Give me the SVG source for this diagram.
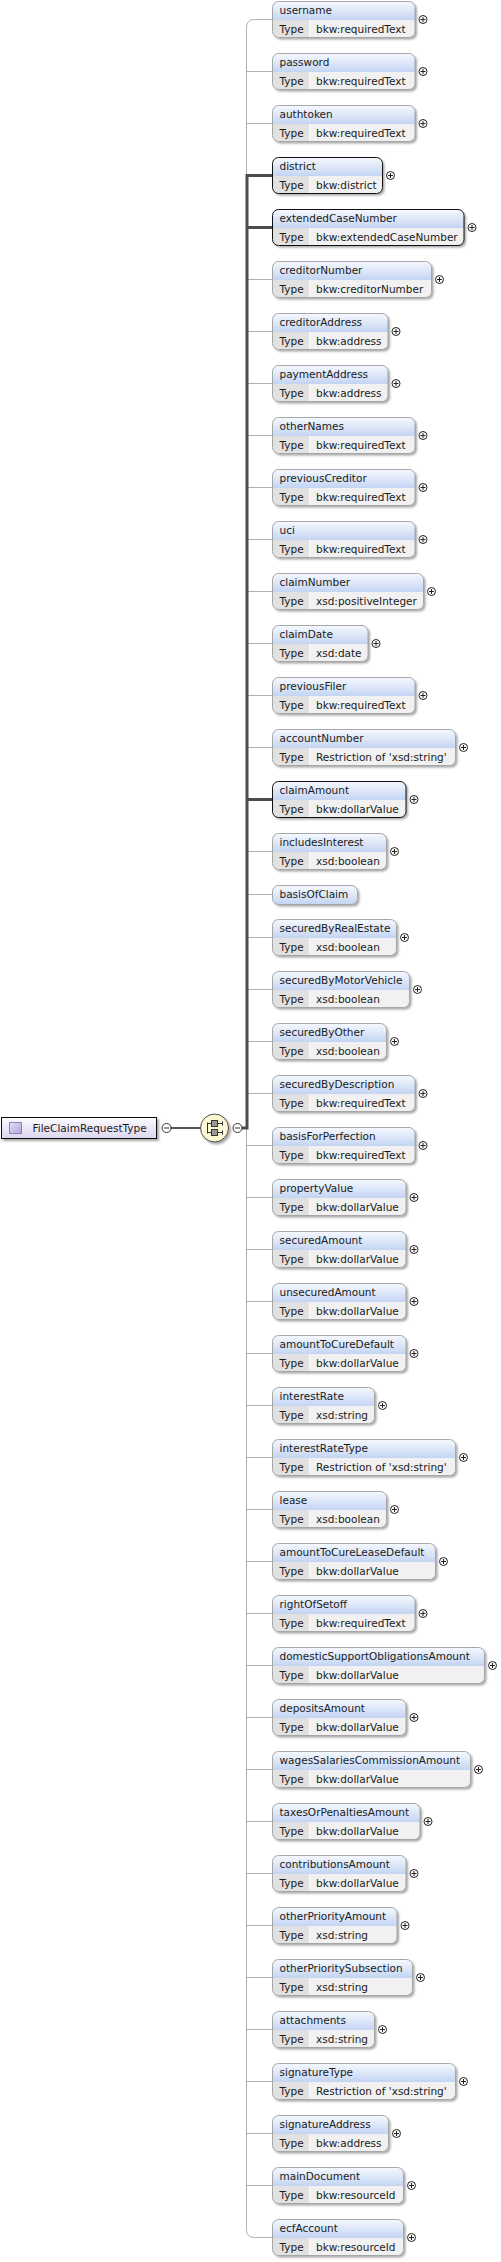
<svg xmlns="http://www.w3.org/2000/svg" xmlns:xlink="http://www.w3.org/1999/xlink" width="501" height="2262" viewBox="0 0 501 2262">
<style>
text{font-family:"DejaVu Sans","Liberation Sans",sans-serif;font-size:10.5px;fill:#1a1a1a}
.bx{fill:#f1f1f1;filter:url(#sh)}
.hd{fill:url(#hg)}
.tc{fill:#e1e1e1}
.dv{stroke:#fafafa;stroke-width:1}
.ol{fill:none;stroke:#a6a6a6;stroke-width:1}
.req .ol{stroke:#111}
.thin{fill:none;stroke:#b0b0b0;stroke-width:1}
.thick{fill:none;stroke:#4d4d4d;stroke-width:3}
</style>
<defs>
<linearGradient id="hg" x1="0" y1="0" x2="0" y2="1">
<stop offset="0" stop-color="#f6f9fe"/>
<stop offset="1" stop-color="#c3d5f3"/>
</linearGradient>
<linearGradient id="rg" x1="0" y1="0" x2="0" y2="1">
<stop offset="0" stop-color="#fcfbff"/>
<stop offset="1" stop-color="#dcd6ef"/>
</linearGradient>
<linearGradient id="ig" x1="0" y1="0" x2="1" y2="1">
<stop offset="0" stop-color="#e6e0f7"/>
<stop offset="1" stop-color="#b1a4dc"/>
</linearGradient>
<filter id="sh" x="-10%" y="-20%" width="130%" height="160%">
<feDropShadow dx="2" dy="2" stdDeviation="1" flood-color="#000" flood-opacity="0.35"/>
</filter>
<g id="plus">
<circle r="4" fill="#fff" stroke="#222" stroke-width="1"/>
<path d="M-2.5,0H2.5M0,-2.5V2.5" stroke="#222" stroke-width="1"/>
</g>
<g id="minus">
<circle r="4.5" fill="#fff" stroke="#333" stroke-width="1"/>
<path d="M-2.5,0H2.5" stroke="#333" stroke-width="1"/>
</g>
<path id="tcell" class="tc" d="M.5,19H37V36.5H6.5A6,6 0 0 1 .5,30.5Z"/>
</defs>

<g id="connectors">
<path class="thin" d="M272,19.5H254.5Q246.5,19.5 246.5,27.5V2229.5Q246.5,2237.5 254.5,2237.5H272"/>
<path class="thin" d="M246.5,71.5H272M246.5,123.5H272M246.5,279.5H272M246.5,331.5H272M246.5,383.5H272M246.5,435.5H272M246.5,487.5H272M246.5,539.5H272M246.5,591.5H272M246.5,643.5H272M246.5,695.5H272M246.5,747.5H272M246.5,851.5H272M246.5,894.5H272M246.5,937.5H272M246.5,989.5H272M246.5,1041.5H272M246.5,1093.5H272M246.5,1145.5H272M246.5,1197.5H272M246.5,1249.5H272M246.5,1301.5H272M246.5,1353.5H272M246.5,1405.5H272M246.5,1457.5H272M246.5,1509.5H272M246.5,1561.5H272M246.5,1613.5H272M246.5,1665.5H272M246.5,1717.5H272M246.5,1769.5H272M246.5,1821.5H272M246.5,1873.5H272M246.5,1925.5H272M246.5,1977.5H272M246.5,2029.5H272M246.5,2081.5H272M246.5,2133.5H272M246.5,2185.5H272"/>
<path class="thick" d="M242,1128H247V175.5H272M247,227.5H272M247,799.5H272"/>
<path d="M171,1128H201" stroke="#555" stroke-width="2" fill="none"/>
</g>

<g id="FileClaimRequestType">
<rect x="1.5" y="1117.5" width="155" height="21" fill="url(#rg)" stroke="#111" filter="url(#sh)"/>
<rect x="9.5" y="1122.5" width="12" height="11" fill="url(#ig)" stroke="#8b7fc0"/>
<text x="32.5" y="1132">FileClaimRequestType</text>
<use href="#minus" x="166.5" y="1128"/>
</g>

<g id="sequence">
<circle cx="214.5" cy="1128" r="14" fill="#fbf7d2" stroke="#4d4d4d" filter="url(#sh)"/>
<path d="M207.5,1122.5V1133.5M207.5,1123.5H222.5M207.5,1132.5H222.5M222.5,1121.5V1125.5M222.5,1130.5V1134.5" stroke="#333" fill="none"/>
<rect x="211.5" y="1120.5" width="6" height="6" fill="#999" stroke="#333"/>
<rect x="211.5" y="1129.5" width="6" height="6" fill="#999" stroke="#333"/>
<use href="#minus" x="237.5" y="1128"/>
</g>

<g id="username" transform="translate(272,1)">
<rect class="bx" x=".5" y=".5" width="142.5" height="36" rx="6"/>
<path class="hd" d="M.5,19V6.5A6,6 0 0 1 6.5,.5H137A6,6 0 0 1 143,6.5V19Z"/>
<use href="#tcell"/><line class="dv" x1="37.5" y1="19" x2="37.5" y2="36"/>
<rect class="ol" x=".5" y=".5" width="142.5" height="36" rx="6"/>
<text x="7.5" y="13">username</text><text x="7.5" y="32">Type</text><text x="44" y="32">bkw:requiredText</text>
<use href="#plus" x="151" y="18.5"/>
</g>
<g id="password" transform="translate(272,53)">
<rect class="bx" x=".5" y=".5" width="142.5" height="36" rx="6"/>
<path class="hd" d="M.5,19V6.5A6,6 0 0 1 6.5,.5H137A6,6 0 0 1 143,6.5V19Z"/>
<use href="#tcell"/><line class="dv" x1="37.5" y1="19" x2="37.5" y2="36"/>
<rect class="ol" x=".5" y=".5" width="142.5" height="36" rx="6"/>
<text x="7.5" y="13">password</text><text x="7.5" y="32">Type</text><text x="44" y="32">bkw:requiredText</text>
<use href="#plus" x="151" y="18.5"/>
</g>
<g id="authtoken" transform="translate(272,105)">
<rect class="bx" x=".5" y=".5" width="142.5" height="36" rx="6"/>
<path class="hd" d="M.5,19V6.5A6,6 0 0 1 6.5,.5H137A6,6 0 0 1 143,6.5V19Z"/>
<use href="#tcell"/><line class="dv" x1="37.5" y1="19" x2="37.5" y2="36"/>
<rect class="ol" x=".5" y=".5" width="142.5" height="36" rx="6"/>
<text x="7.5" y="13">authtoken</text><text x="7.5" y="32">Type</text><text x="44" y="32">bkw:requiredText</text>
<use href="#plus" x="151" y="18.5"/>
</g>
<g id="district" class="req" transform="translate(272,157)">
<rect class="bx" x=".5" y=".5" width="110" height="36" rx="6"/>
<path class="hd" d="M.5,19V6.5A6,6 0 0 1 6.5,.5H104.5A6,6 0 0 1 110.5,6.5V19Z"/>
<use href="#tcell"/><line class="dv" x1="37.5" y1="19" x2="37.5" y2="36"/>
<rect class="ol" x=".5" y=".5" width="110" height="36" rx="6"/>
<text x="7.5" y="13">district</text><text x="7.5" y="32">Type</text><text x="44" y="32">bkw:district</text>
<use href="#plus" x="118.5" y="18.5"/>
</g>
<g id="extendedCaseNumber" class="req" transform="translate(272,209)">
<rect class="bx" x=".5" y=".5" width="191.5" height="36" rx="6"/>
<path class="hd" d="M.5,19V6.5A6,6 0 0 1 6.5,.5H186A6,6 0 0 1 192,6.5V19Z"/>
<use href="#tcell"/><line class="dv" x1="37.5" y1="19" x2="37.5" y2="36"/>
<rect class="ol" x=".5" y=".5" width="191.5" height="36" rx="6"/>
<text x="7.5" y="13">extendedCaseNumber</text><text x="7.5" y="32">Type</text><text x="44" y="32">bkw:extendedCaseNumber</text>
<use href="#plus" x="200" y="18.5"/>
</g>
<g id="creditorNumber" transform="translate(272,261)">
<rect class="bx" x=".5" y=".5" width="159" height="36" rx="6"/>
<path class="hd" d="M.5,19V6.5A6,6 0 0 1 6.5,.5H153.5A6,6 0 0 1 159.5,6.5V19Z"/>
<use href="#tcell"/><line class="dv" x1="37.5" y1="19" x2="37.5" y2="36"/>
<rect class="ol" x=".5" y=".5" width="159" height="36" rx="6"/>
<text x="7.5" y="13">creditorNumber</text><text x="7.5" y="32">Type</text><text x="44" y="32">bkw:creditorNumber</text>
<use href="#plus" x="167.5" y="18.5"/>
</g>
<g id="creditorAddress" transform="translate(272,313)">
<rect class="bx" x=".5" y=".5" width="115.5" height="36" rx="6"/>
<path class="hd" d="M.5,19V6.5A6,6 0 0 1 6.5,.5H110A6,6 0 0 1 116,6.5V19Z"/>
<use href="#tcell"/><line class="dv" x1="37.5" y1="19" x2="37.5" y2="36"/>
<rect class="ol" x=".5" y=".5" width="115.5" height="36" rx="6"/>
<text x="7.5" y="13">creditorAddress</text><text x="7.5" y="32">Type</text><text x="44" y="32">bkw:address</text>
<use href="#plus" x="124" y="18.5"/>
</g>
<g id="paymentAddress" transform="translate(272,365)">
<rect class="bx" x=".5" y=".5" width="115.5" height="36" rx="6"/>
<path class="hd" d="M.5,19V6.5A6,6 0 0 1 6.5,.5H110A6,6 0 0 1 116,6.5V19Z"/>
<use href="#tcell"/><line class="dv" x1="37.5" y1="19" x2="37.5" y2="36"/>
<rect class="ol" x=".5" y=".5" width="115.5" height="36" rx="6"/>
<text x="7.5" y="13">paymentAddress</text><text x="7.5" y="32">Type</text><text x="44" y="32">bkw:address</text>
<use href="#plus" x="124" y="18.5"/>
</g>
<g id="otherNames" transform="translate(272,417)">
<rect class="bx" x=".5" y=".5" width="142.5" height="36" rx="6"/>
<path class="hd" d="M.5,19V6.5A6,6 0 0 1 6.5,.5H137A6,6 0 0 1 143,6.5V19Z"/>
<use href="#tcell"/><line class="dv" x1="37.5" y1="19" x2="37.5" y2="36"/>
<rect class="ol" x=".5" y=".5" width="142.5" height="36" rx="6"/>
<text x="7.5" y="13">otherNames</text><text x="7.5" y="32">Type</text><text x="44" y="32">bkw:requiredText</text>
<use href="#plus" x="151" y="18.5"/>
</g>
<g id="previousCreditor" transform="translate(272,469)">
<rect class="bx" x=".5" y=".5" width="142.5" height="36" rx="6"/>
<path class="hd" d="M.5,19V6.5A6,6 0 0 1 6.5,.5H137A6,6 0 0 1 143,6.5V19Z"/>
<use href="#tcell"/><line class="dv" x1="37.5" y1="19" x2="37.5" y2="36"/>
<rect class="ol" x=".5" y=".5" width="142.5" height="36" rx="6"/>
<text x="7.5" y="13">previousCreditor</text><text x="7.5" y="32">Type</text><text x="44" y="32">bkw:requiredText</text>
<use href="#plus" x="151" y="18.5"/>
</g>
<g id="uci" transform="translate(272,521)">
<rect class="bx" x=".5" y=".5" width="142.5" height="36" rx="6"/>
<path class="hd" d="M.5,19V6.5A6,6 0 0 1 6.5,.5H137A6,6 0 0 1 143,6.5V19Z"/>
<use href="#tcell"/><line class="dv" x1="37.5" y1="19" x2="37.5" y2="36"/>
<rect class="ol" x=".5" y=".5" width="142.5" height="36" rx="6"/>
<text x="7.5" y="13">uci</text><text x="7.5" y="32">Type</text><text x="44" y="32">bkw:requiredText</text>
<use href="#plus" x="151" y="18.5"/>
</g>
<g id="claimNumber" transform="translate(272,573)">
<rect class="bx" x=".5" y=".5" width="151" height="36" rx="6"/>
<path class="hd" d="M.5,19V6.5A6,6 0 0 1 6.5,.5H145.5A6,6 0 0 1 151.5,6.5V19Z"/>
<use href="#tcell"/><line class="dv" x1="37.5" y1="19" x2="37.5" y2="36"/>
<rect class="ol" x=".5" y=".5" width="151" height="36" rx="6"/>
<text x="7.5" y="13">claimNumber</text><text x="7.5" y="32">Type</text><text x="44" y="32">xsd:positiveInteger</text>
<use href="#plus" x="159.5" y="18.5"/>
</g>
<g id="claimDate" transform="translate(272,625)">
<rect class="bx" x=".5" y=".5" width="95.5" height="36" rx="6"/>
<path class="hd" d="M.5,19V6.5A6,6 0 0 1 6.5,.5H90A6,6 0 0 1 96,6.5V19Z"/>
<use href="#tcell"/><line class="dv" x1="37.5" y1="19" x2="37.5" y2="36"/>
<rect class="ol" x=".5" y=".5" width="95.5" height="36" rx="6"/>
<text x="7.5" y="13">claimDate</text><text x="7.5" y="32">Type</text><text x="44" y="32">xsd:date</text>
<use href="#plus" x="104" y="18.5"/>
</g>
<g id="previousFiler" transform="translate(272,677)">
<rect class="bx" x=".5" y=".5" width="142.5" height="36" rx="6"/>
<path class="hd" d="M.5,19V6.5A6,6 0 0 1 6.5,.5H137A6,6 0 0 1 143,6.5V19Z"/>
<use href="#tcell"/><line class="dv" x1="37.5" y1="19" x2="37.5" y2="36"/>
<rect class="ol" x=".5" y=".5" width="142.5" height="36" rx="6"/>
<text x="7.5" y="13">previousFiler</text><text x="7.5" y="32">Type</text><text x="44" y="32">bkw:requiredText</text>
<use href="#plus" x="151" y="18.5"/>
</g>
<g id="accountNumber" transform="translate(272,729)">
<rect class="bx" x=".5" y=".5" width="183" height="36" rx="6"/>
<path class="hd" d="M.5,19V6.5A6,6 0 0 1 6.5,.5H177.5A6,6 0 0 1 183.5,6.5V19Z"/>
<use href="#tcell"/><line class="dv" x1="37.5" y1="19" x2="37.5" y2="36"/>
<rect class="ol" x=".5" y=".5" width="183" height="36" rx="6"/>
<text x="7.5" y="13">accountNumber</text><text x="7.5" y="32">Type</text><text x="44" y="32">Restriction of 'xsd:string'</text>
<use href="#plus" x="191.5" y="18.5"/>
</g>
<g id="claimAmount" class="req" transform="translate(272,781)">
<rect class="bx" x=".5" y=".5" width="133.5" height="36" rx="6"/>
<path class="hd" d="M.5,19V6.5A6,6 0 0 1 6.5,.5H128A6,6 0 0 1 134,6.5V19Z"/>
<use href="#tcell"/><line class="dv" x1="37.5" y1="19" x2="37.5" y2="36"/>
<rect class="ol" x=".5" y=".5" width="133.5" height="36" rx="6"/>
<text x="7.5" y="13">claimAmount</text><text x="7.5" y="32">Type</text><text x="44" y="32">bkw:dollarValue</text>
<use href="#plus" x="142" y="18.5"/>
</g>
<g id="includesInterest" transform="translate(272,833)">
<rect class="bx" x=".5" y=".5" width="114" height="36" rx="6"/>
<path class="hd" d="M.5,19V6.5A6,6 0 0 1 6.5,.5H108.5A6,6 0 0 1 114.5,6.5V19Z"/>
<use href="#tcell"/><line class="dv" x1="37.5" y1="19" x2="37.5" y2="36"/>
<rect class="ol" x=".5" y=".5" width="114" height="36" rx="6"/>
<text x="7.5" y="13">includesInterest</text><text x="7.5" y="32">Type</text><text x="44" y="32">xsd:boolean</text>
<use href="#plus" x="122.5" y="18.5"/>
</g>
<g id="basisOfClaim" transform="translate(272,885)">
<rect class="bx hd" x=".5" y=".5" width="85" height="19" rx="6" style="fill:url(#hg)"/>
<rect class="ol" x=".5" y=".5" width="85" height="19" rx="6"/>
<text x="7.5" y="13">basisOfClaim</text>
</g>
<g id="securedByRealEstate" transform="translate(272,919)">
<rect class="bx" x=".5" y=".5" width="124" height="36" rx="6"/>
<path class="hd" d="M.5,19V6.5A6,6 0 0 1 6.5,.5H118.5A6,6 0 0 1 124.5,6.5V19Z"/>
<use href="#tcell"/><line class="dv" x1="37.5" y1="19" x2="37.5" y2="36"/>
<rect class="ol" x=".5" y=".5" width="124" height="36" rx="6"/>
<text x="7.5" y="13">securedByRealEstate</text><text x="7.5" y="32">Type</text><text x="44" y="32">xsd:boolean</text>
<use href="#plus" x="132.5" y="18.5"/>
</g>
<g id="securedByMotorVehicle" transform="translate(272,971)">
<rect class="bx" x=".5" y=".5" width="137" height="36" rx="6"/>
<path class="hd" d="M.5,19V6.5A6,6 0 0 1 6.5,.5H131.5A6,6 0 0 1 137.5,6.5V19Z"/>
<use href="#tcell"/><line class="dv" x1="37.5" y1="19" x2="37.5" y2="36"/>
<rect class="ol" x=".5" y=".5" width="137" height="36" rx="6"/>
<text x="7.5" y="13">securedByMotorVehicle</text><text x="7.5" y="32">Type</text><text x="44" y="32">xsd:boolean</text>
<use href="#plus" x="145.5" y="18.5"/>
</g>
<g id="securedByOther" transform="translate(272,1023)">
<rect class="bx" x=".5" y=".5" width="114" height="36" rx="6"/>
<path class="hd" d="M.5,19V6.5A6,6 0 0 1 6.5,.5H108.5A6,6 0 0 1 114.5,6.5V19Z"/>
<use href="#tcell"/><line class="dv" x1="37.5" y1="19" x2="37.5" y2="36"/>
<rect class="ol" x=".5" y=".5" width="114" height="36" rx="6"/>
<text x="7.5" y="13">securedByOther</text><text x="7.5" y="32">Type</text><text x="44" y="32">xsd:boolean</text>
<use href="#plus" x="122.5" y="18.5"/>
</g>
<g id="securedByDescription" transform="translate(272,1075)">
<rect class="bx" x=".5" y=".5" width="142.5" height="36" rx="6"/>
<path class="hd" d="M.5,19V6.5A6,6 0 0 1 6.5,.5H137A6,6 0 0 1 143,6.5V19Z"/>
<use href="#tcell"/><line class="dv" x1="37.5" y1="19" x2="37.5" y2="36"/>
<rect class="ol" x=".5" y=".5" width="142.5" height="36" rx="6"/>
<text x="7.5" y="13">securedByDescription</text><text x="7.5" y="32">Type</text><text x="44" y="32">bkw:requiredText</text>
<use href="#plus" x="151" y="18.5"/>
</g>
<g id="basisForPerfection" transform="translate(272,1127)">
<rect class="bx" x=".5" y=".5" width="142.5" height="36" rx="6"/>
<path class="hd" d="M.5,19V6.5A6,6 0 0 1 6.5,.5H137A6,6 0 0 1 143,6.5V19Z"/>
<use href="#tcell"/><line class="dv" x1="37.5" y1="19" x2="37.5" y2="36"/>
<rect class="ol" x=".5" y=".5" width="142.5" height="36" rx="6"/>
<text x="7.5" y="13">basisForPerfection</text><text x="7.5" y="32">Type</text><text x="44" y="32">bkw:requiredText</text>
<use href="#plus" x="151" y="18.5"/>
</g>
<g id="propertyValue" transform="translate(272,1179)">
<rect class="bx" x=".5" y=".5" width="133.5" height="36" rx="6"/>
<path class="hd" d="M.5,19V6.5A6,6 0 0 1 6.5,.5H128A6,6 0 0 1 134,6.5V19Z"/>
<use href="#tcell"/><line class="dv" x1="37.5" y1="19" x2="37.5" y2="36"/>
<rect class="ol" x=".5" y=".5" width="133.5" height="36" rx="6"/>
<text x="7.5" y="13">propertyValue</text><text x="7.5" y="32">Type</text><text x="44" y="32">bkw:dollarValue</text>
<use href="#plus" x="142" y="18.5"/>
</g>
<g id="securedAmount" transform="translate(272,1231)">
<rect class="bx" x=".5" y=".5" width="133.5" height="36" rx="6"/>
<path class="hd" d="M.5,19V6.5A6,6 0 0 1 6.5,.5H128A6,6 0 0 1 134,6.5V19Z"/>
<use href="#tcell"/><line class="dv" x1="37.5" y1="19" x2="37.5" y2="36"/>
<rect class="ol" x=".5" y=".5" width="133.5" height="36" rx="6"/>
<text x="7.5" y="13">securedAmount</text><text x="7.5" y="32">Type</text><text x="44" y="32">bkw:dollarValue</text>
<use href="#plus" x="142" y="18.5"/>
</g>
<g id="unsecuredAmount" transform="translate(272,1283)">
<rect class="bx" x=".5" y=".5" width="133.5" height="36" rx="6"/>
<path class="hd" d="M.5,19V6.5A6,6 0 0 1 6.5,.5H128A6,6 0 0 1 134,6.5V19Z"/>
<use href="#tcell"/><line class="dv" x1="37.5" y1="19" x2="37.5" y2="36"/>
<rect class="ol" x=".5" y=".5" width="133.5" height="36" rx="6"/>
<text x="7.5" y="13">unsecuredAmount</text><text x="7.5" y="32">Type</text><text x="44" y="32">bkw:dollarValue</text>
<use href="#plus" x="142" y="18.5"/>
</g>
<g id="amountToCureDefault" transform="translate(272,1335)">
<rect class="bx" x=".5" y=".5" width="133.5" height="36" rx="6"/>
<path class="hd" d="M.5,19V6.5A6,6 0 0 1 6.5,.5H128A6,6 0 0 1 134,6.5V19Z"/>
<use href="#tcell"/><line class="dv" x1="37.5" y1="19" x2="37.5" y2="36"/>
<rect class="ol" x=".5" y=".5" width="133.5" height="36" rx="6"/>
<text x="7.5" y="13">amountToCureDefault</text><text x="7.5" y="32">Type</text><text x="44" y="32">bkw:dollarValue</text>
<use href="#plus" x="142" y="18.5"/>
</g>
<g id="interestRate" transform="translate(272,1387)">
<rect class="bx" x=".5" y=".5" width="102" height="36" rx="6"/>
<path class="hd" d="M.5,19V6.5A6,6 0 0 1 6.5,.5H96.5A6,6 0 0 1 102.5,6.5V19Z"/>
<use href="#tcell"/><line class="dv" x1="37.5" y1="19" x2="37.5" y2="36"/>
<rect class="ol" x=".5" y=".5" width="102" height="36" rx="6"/>
<text x="7.5" y="13">interestRate</text><text x="7.5" y="32">Type</text><text x="44" y="32">xsd:string</text>
<use href="#plus" x="110.5" y="18.5"/>
</g>
<g id="interestRateType" transform="translate(272,1439)">
<rect class="bx" x=".5" y=".5" width="183" height="36" rx="6"/>
<path class="hd" d="M.5,19V6.5A6,6 0 0 1 6.5,.5H177.5A6,6 0 0 1 183.5,6.5V19Z"/>
<use href="#tcell"/><line class="dv" x1="37.5" y1="19" x2="37.5" y2="36"/>
<rect class="ol" x=".5" y=".5" width="183" height="36" rx="6"/>
<text x="7.5" y="13">interestRateType</text><text x="7.5" y="32">Type</text><text x="44" y="32">Restriction of 'xsd:string'</text>
<use href="#plus" x="191.5" y="18.5"/>
</g>
<g id="lease" transform="translate(272,1491)">
<rect class="bx" x=".5" y=".5" width="114" height="36" rx="6"/>
<path class="hd" d="M.5,19V6.5A6,6 0 0 1 6.5,.5H108.5A6,6 0 0 1 114.5,6.5V19Z"/>
<use href="#tcell"/><line class="dv" x1="37.5" y1="19" x2="37.5" y2="36"/>
<rect class="ol" x=".5" y=".5" width="114" height="36" rx="6"/>
<text x="7.5" y="13">lease</text><text x="7.5" y="32">Type</text><text x="44" y="32">xsd:boolean</text>
<use href="#plus" x="122.5" y="18.5"/>
</g>
<g id="amountToCureLeaseDefault" transform="translate(272,1543)">
<rect class="bx" x=".5" y=".5" width="163" height="36" rx="6"/>
<path class="hd" d="M.5,19V6.5A6,6 0 0 1 6.5,.5H157.5A6,6 0 0 1 163.5,6.5V19Z"/>
<use href="#tcell"/><line class="dv" x1="37.5" y1="19" x2="37.5" y2="36"/>
<rect class="ol" x=".5" y=".5" width="163" height="36" rx="6"/>
<text x="7.5" y="13">amountToCureLeaseDefault</text><text x="7.5" y="32">Type</text><text x="44" y="32">bkw:dollarValue</text>
<use href="#plus" x="171.5" y="18.5"/>
</g>
<g id="rightOfSetoff" transform="translate(272,1595)">
<rect class="bx" x=".5" y=".5" width="142.5" height="36" rx="6"/>
<path class="hd" d="M.5,19V6.5A6,6 0 0 1 6.5,.5H137A6,6 0 0 1 143,6.5V19Z"/>
<use href="#tcell"/><line class="dv" x1="37.5" y1="19" x2="37.5" y2="36"/>
<rect class="ol" x=".5" y=".5" width="142.5" height="36" rx="6"/>
<text x="7.5" y="13">rightOfSetoff</text><text x="7.5" y="32">Type</text><text x="44" y="32">bkw:requiredText</text>
<use href="#plus" x="151" y="18.5"/>
</g>
<g id="domesticSupportObligationsAmount" transform="translate(272,1647)">
<rect class="bx" x=".5" y=".5" width="212" height="36" rx="6"/>
<path class="hd" d="M.5,19V6.5A6,6 0 0 1 6.5,.5H206.5A6,6 0 0 1 212.5,6.5V19Z"/>
<use href="#tcell"/><line class="dv" x1="37.5" y1="19" x2="37.5" y2="36"/>
<rect class="ol" x=".5" y=".5" width="212" height="36" rx="6"/>
<text x="7.5" y="13">domesticSupportObligationsAmount</text><text x="7.5" y="32">Type</text><text x="44" y="32">bkw:dollarValue</text>
<use href="#plus" x="220.5" y="18.5"/>
</g>
<g id="depositsAmount" transform="translate(272,1699)">
<rect class="bx" x=".5" y=".5" width="133.5" height="36" rx="6"/>
<path class="hd" d="M.5,19V6.5A6,6 0 0 1 6.5,.5H128A6,6 0 0 1 134,6.5V19Z"/>
<use href="#tcell"/><line class="dv" x1="37.5" y1="19" x2="37.5" y2="36"/>
<rect class="ol" x=".5" y=".5" width="133.5" height="36" rx="6"/>
<text x="7.5" y="13">depositsAmount</text><text x="7.5" y="32">Type</text><text x="44" y="32">bkw:dollarValue</text>
<use href="#plus" x="142" y="18.5"/>
</g>
<g id="wagesSalariesCommissionAmount" transform="translate(272,1751)">
<rect class="bx" x=".5" y=".5" width="198" height="36" rx="6"/>
<path class="hd" d="M.5,19V6.5A6,6 0 0 1 6.5,.5H192.5A6,6 0 0 1 198.5,6.5V19Z"/>
<use href="#tcell"/><line class="dv" x1="37.5" y1="19" x2="37.5" y2="36"/>
<rect class="ol" x=".5" y=".5" width="198" height="36" rx="6"/>
<text x="7.5" y="13">wagesSalariesCommissionAmount</text><text x="7.5" y="32">Type</text><text x="44" y="32">bkw:dollarValue</text>
<use href="#plus" x="206.5" y="18.5"/>
</g>
<g id="taxesOrPenaltiesAmount" transform="translate(272,1803)">
<rect class="bx" x=".5" y=".5" width="147.5" height="36" rx="6"/>
<path class="hd" d="M.5,19V6.5A6,6 0 0 1 6.5,.5H142A6,6 0 0 1 148,6.5V19Z"/>
<use href="#tcell"/><line class="dv" x1="37.5" y1="19" x2="37.5" y2="36"/>
<rect class="ol" x=".5" y=".5" width="147.5" height="36" rx="6"/>
<text x="7.5" y="13">taxesOrPenaltiesAmount</text><text x="7.5" y="32">Type</text><text x="44" y="32">bkw:dollarValue</text>
<use href="#plus" x="156" y="18.5"/>
</g>
<g id="contributionsAmount" transform="translate(272,1855)">
<rect class="bx" x=".5" y=".5" width="133.5" height="36" rx="6"/>
<path class="hd" d="M.5,19V6.5A6,6 0 0 1 6.5,.5H128A6,6 0 0 1 134,6.5V19Z"/>
<use href="#tcell"/><line class="dv" x1="37.5" y1="19" x2="37.5" y2="36"/>
<rect class="ol" x=".5" y=".5" width="133.5" height="36" rx="6"/>
<text x="7.5" y="13">contributionsAmount</text><text x="7.5" y="32">Type</text><text x="44" y="32">bkw:dollarValue</text>
<use href="#plus" x="142" y="18.5"/>
</g>
<g id="otherPriorityAmount" transform="translate(272,1907)">
<rect class="bx" x=".5" y=".5" width="124.5" height="36" rx="6"/>
<path class="hd" d="M.5,19V6.5A6,6 0 0 1 6.5,.5H119A6,6 0 0 1 125,6.5V19Z"/>
<use href="#tcell"/><line class="dv" x1="37.5" y1="19" x2="37.5" y2="36"/>
<rect class="ol" x=".5" y=".5" width="124.5" height="36" rx="6"/>
<text x="7.5" y="13">otherPriorityAmount</text><text x="7.5" y="32">Type</text><text x="44" y="32">xsd:string</text>
<use href="#plus" x="133" y="18.5"/>
</g>
<g id="otherPrioritySubsection" transform="translate(272,1959)">
<rect class="bx" x=".5" y=".5" width="140" height="36" rx="6"/>
<path class="hd" d="M.5,19V6.5A6,6 0 0 1 6.5,.5H134.5A6,6 0 0 1 140.5,6.5V19Z"/>
<use href="#tcell"/><line class="dv" x1="37.5" y1="19" x2="37.5" y2="36"/>
<rect class="ol" x=".5" y=".5" width="140" height="36" rx="6"/>
<text x="7.5" y="13">otherPrioritySubsection</text><text x="7.5" y="32">Type</text><text x="44" y="32">xsd:string</text>
<use href="#plus" x="148.5" y="18.5"/>
</g>
<g id="attachments" transform="translate(272,2011)">
<rect class="bx" x=".5" y=".5" width="102" height="36" rx="6"/>
<path class="hd" d="M.5,19V6.5A6,6 0 0 1 6.5,.5H96.5A6,6 0 0 1 102.5,6.5V19Z"/>
<use href="#tcell"/><line class="dv" x1="37.5" y1="19" x2="37.5" y2="36"/>
<rect class="ol" x=".5" y=".5" width="102" height="36" rx="6"/>
<text x="7.5" y="13">attachments</text><text x="7.5" y="32">Type</text><text x="44" y="32">xsd:string</text>
<use href="#plus" x="110.5" y="18.5"/>
</g>
<g id="signatureType" transform="translate(272,2063)">
<rect class="bx" x=".5" y=".5" width="183" height="36" rx="6"/>
<path class="hd" d="M.5,19V6.5A6,6 0 0 1 6.5,.5H177.5A6,6 0 0 1 183.5,6.5V19Z"/>
<use href="#tcell"/><line class="dv" x1="37.5" y1="19" x2="37.5" y2="36"/>
<rect class="ol" x=".5" y=".5" width="183" height="36" rx="6"/>
<text x="7.5" y="13">signatureType</text><text x="7.5" y="32">Type</text><text x="44" y="32">Restriction of 'xsd:string'</text>
<use href="#plus" x="191.5" y="18.5"/>
</g>
<g id="signatureAddress" transform="translate(272,2115)">
<rect class="bx" x=".5" y=".5" width="116" height="36" rx="6"/>
<path class="hd" d="M.5,19V6.5A6,6 0 0 1 6.5,.5H110.5A6,6 0 0 1 116.5,6.5V19Z"/>
<use href="#tcell"/><line class="dv" x1="37.5" y1="19" x2="37.5" y2="36"/>
<rect class="ol" x=".5" y=".5" width="116" height="36" rx="6"/>
<text x="7.5" y="13">signatureAddress</text><text x="7.5" y="32">Type</text><text x="44" y="32">bkw:address</text>
<use href="#plus" x="124.5" y="18.5"/>
</g>
<g id="mainDocument" transform="translate(272,2167)">
<rect class="bx" x=".5" y=".5" width="131" height="36" rx="6"/>
<path class="hd" d="M.5,19V6.5A6,6 0 0 1 6.5,.5H125.5A6,6 0 0 1 131.5,6.5V19Z"/>
<use href="#tcell"/><line class="dv" x1="37.5" y1="19" x2="37.5" y2="36"/>
<rect class="ol" x=".5" y=".5" width="131" height="36" rx="6"/>
<text x="7.5" y="13">mainDocument</text><text x="7.5" y="32">Type</text><text x="44" y="32">bkw:resourceId</text>
<use href="#plus" x="139.5" y="18.5"/>
</g>
<g id="ecfAccount" transform="translate(272,2219)">
<rect class="bx" x=".5" y=".5" width="131" height="36" rx="6"/>
<path class="hd" d="M.5,19V6.5A6,6 0 0 1 6.5,.5H125.5A6,6 0 0 1 131.5,6.5V19Z"/>
<use href="#tcell"/><line class="dv" x1="37.5" y1="19" x2="37.5" y2="36"/>
<rect class="ol" x=".5" y=".5" width="131" height="36" rx="6"/>
<text x="7.5" y="13">ecfAccount</text><text x="7.5" y="32">Type</text><text x="44" y="32">bkw:resourceId</text>
<use href="#plus" x="139.5" y="18.5"/>
</g>
</svg>
